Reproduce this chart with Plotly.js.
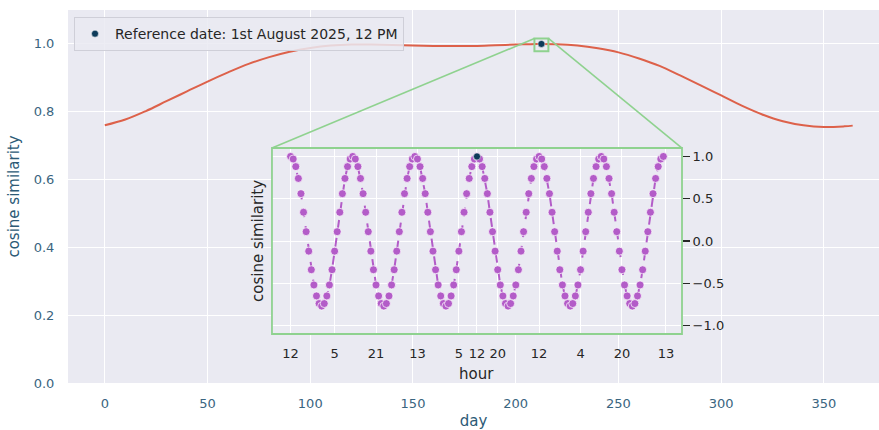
<!DOCTYPE html>
<html>
<head>
<meta charset="utf-8">
<script src="https://cdn.plot.ly/plotly-3.0.1.min.js"></script>
<style>html,body{margin:0;padding:0;background:#fff;}#chart{width:879px;height:430px;}</style>
</head>
<body>
<div id="chart"></div>
<script>
// ---- main chart: similarity vs day of year ----
const days = [0,10,20,30,40,50,60,70,80,90,100,110,120,130,140,150,160,170,180,190,200,210,220,230,240,250,260,270,280,290,300,310,320,330,340,350,360,364];
const simDay = [0.760,0.777,0.802,0.831,0.860,0.889,0.916,0.941,0.961,0.977,0.988,0.995,0.998,0.998,0.997,0.995,0.994,0.994,0.994,0.996,0.998,1.000,0.999,0.995,0.987,0.975,0.957,0.935,0.907,0.878,0.848,0.818,0.792,0.772,0.760,0.755,0.757,0.759];
const dayTicks = [0,50,100,150,200,250,300,350];

// ---- inset: similarity vs hour (offset from reference, in hours) ----
const hourOffset = [-72,-71,-70,-69,-68,-67,-66,-65,-64,-63,-62,-61,-60,-59,-58,-57,-56,-55,-54,-53,-52,-51,-50,-49,
-48,-47,-46,-45,-44,-43,-42,-41,-40,-39,-38,-37,-36,-35,-34,-33,-32,-31,-30,-29,-28,-27,-26,-25,
-24,-23,-22,-21,-20,-19,-18,-17,-16,-15,-14,-13,-12,-11,-10,-9,-8,-7,-6,-5,-4,-3,-2,-1,
0,1,2,3,4,5,6,7,8,9,10,11,12,13,14,15,16,17,18,19,20,21,22,23,
24,25,26,27,28,29,30,31,32,33,34,35,36,37,38,39,40,41,42,43,44,45,46,47,
48,49,50,51,52,53,54,55,56,57,58,59,60,61,62,63,64,65,66,67,68,69,70,71,72];
const simHour = [
1.00,0.97,0.88,0.74,0.56,0.34,0.11,-0.12,-0.34,-0.52,-0.65,-0.74,-0.77,-0.74,-0.65,-0.52,-0.34,-0.12,0.11,0.34,0.56,0.74,0.88,0.97,
1.00,0.97,0.88,0.74,0.56,0.34,0.11,-0.12,-0.34,-0.52,-0.65,-0.74,-0.77,-0.74,-0.65,-0.52,-0.34,-0.12,0.11,0.34,0.56,0.74,0.88,0.97,
1.00,0.97,0.88,0.74,0.56,0.34,0.11,-0.12,-0.34,-0.52,-0.65,-0.74,-0.77,-0.74,-0.65,-0.52,-0.34,-0.12,0.11,0.34,0.56,0.74,0.88,0.97,
1.00,0.97,0.88,0.74,0.56,0.34,0.11,-0.12,-0.34,-0.52,-0.65,-0.74,-0.77,-0.74,-0.65,-0.52,-0.34,-0.12,0.11,0.34,0.56,0.74,0.88,0.97,
1.00,0.97,0.88,0.74,0.56,0.34,0.11,-0.12,-0.34,-0.52,-0.65,-0.74,-0.77,-0.74,-0.65,-0.52,-0.34,-0.12,0.11,0.34,0.56,0.74,0.88,0.97,
1.00,0.97,0.88,0.74,0.56,0.34,0.11,-0.12,-0.34,-0.52,-0.65,-0.74,-0.77,-0.74,-0.65,-0.52,-0.34,-0.12,0.11,0.34,0.56,0.74,0.88,0.97,
1.00];
const hourTickVals = [-72,-55,-39,-23,-7,0,8,24,40,56,73];
const hourTickText = ['12','5','21','13','5','12','20','12','4','20','13'];
const simTicks = [-1,-0.5,0,0.5,1];
const simTickText = ['\u22121.0','\u22120.5','0.0','0.5','1.0'];

// reference point
const refDay = [212.5];
const refSim = [1.0];
const refHour = [0];
const refLabel = 'Reference date: 1st August 2025, 12 PM';

// ---- styling ----
const BG = '#eaeaf2';
const AXC = '#3a6580';
const DARK = '#262626';
const GREEN = '#8fd28f';
const FONT = 'DejaVu Sans, sans-serif';

const xr = [-17.9, 376.8];
const yr = [0, 1.1];
const ixr = [-79.2, 79.2];
const iyr = [-1.1, 1.1];
const insetX = [0.2515, 0.7571];
const insetY = [0.1314, 0.6300];
const zoomHalfWidth = 3.4; // days
const zoomY = [0.978, 1.016];

const traces = [
  {x: days, y: simDay, type: 'scatter', mode: 'lines', line: {color: '#dd614a', width: 2, shape: 'spline', smoothing: 1},
   showlegend: false, hoverinfo: 'skip', xaxis: 'x', yaxis: 'y'},
  {x: refDay, y: refSim, type: 'scatter', mode: 'markers', name: refLabel,
   marker: {color: '#0d3b5a', size: 7, line: {color: '#ffffff', width: 0.5}}, xaxis: 'x', yaxis: 'y'},
  {x: hourOffset, y: simHour, type: 'scatter', mode: 'lines+markers',
   line: {color: '#b35cc8', width: 2, dash: 'dash'},
   marker: {color: '#b35cc8', size: 8, line: {color: '#ffffff', width: 0.7}},
   showlegend: false, xaxis: 'x2', yaxis: 'y2'},
  {x: refHour, y: refSim, type: 'scatter', mode: 'markers',
   marker: {color: '#0d3b5a', size: 7, line: {color: '#ffffff', width: 0.5}},
   showlegend: false, xaxis: 'x2', yaxis: 'y2'}
];

function px(x){ return (x - xr[0]) / (xr[1] - xr[0]); }
function py(y){ return (y - yr[0]) / (yr[1] - yr[0]); }
const bx0 = px(refDay[0] - zoomHalfWidth), bx1 = px(refDay[0] + zoomHalfWidth), by1 = py(zoomY[1]);

const shapes = [
  {type: 'rect', xref: 'x', yref: 'y', x0: refDay[0] - zoomHalfWidth, x1: refDay[0] + zoomHalfWidth,
   y0: zoomY[0], y1: zoomY[1], line: {color: GREEN, width: 2}, layer: 'above'},
  {type: 'line', xref: 'paper', yref: 'paper', x0: bx0, y0: by1, x1: insetX[0], y1: insetY[1],
   line: {color: GREEN, width: 1.6}, layer: 'above'},
  {type: 'line', xref: 'paper', yref: 'paper', x0: bx1, y0: by1, x1: insetX[1], y1: insetY[1],
   line: {color: GREEN, width: 1.6}, layer: 'above'},
  {type: 'rect', xref: 'paper', yref: 'paper', x0: insetX[0], x1: insetX[1], y0: insetY[0], y1: insetY[1],
   line: {color: GREEN, width: 1.8}, layer: 'above'}
];

const layout = {
  width: 879, height: 430,
  margin: {l: 68, r: 0, t: 10, b: 47},
  paper_bgcolor: '#ffffff', plot_bgcolor: BG,
  font: {family: FONT, size: 13, color: AXC},
  showlegend: true,
  legend: {x: 0.0074, y: 0.981, xanchor: 'left', yanchor: 'top', bgcolor: 'rgba(234,234,242,0.85)',
           bordercolor: '#cfcfd8', borderwidth: 1, font: {family: FONT, size: 14, color: DARK}},
  xaxis: {domain: [0, 1], range: xr, tickvals: dayTicks, showgrid: true, gridcolor: '#ffffff', gridwidth: 1,
          zeroline: false, showline: false, ticks: 'outside', ticklen: 8, tickcolor: 'rgba(0,0,0,0)',
          tickfont: {family: FONT, size: 13, color: AXC},
          title: {text: 'day', font: {family: FONT, size: 15, color: '#2c5a76'}, standoff: 8}},
  yaxis: {domain: [0, 1], range: yr, tickvals: [0, 0.2, 0.4, 0.6, 0.8, 1.0], ticktext: ['0.0','0.2','0.4','0.6','0.8','1.0'],
          showgrid: true, gridcolor: '#ffffff', gridwidth: 1, zeroline: false, showline: false,
          ticks: 'outside', ticklen: 10, tickcolor: 'rgba(0,0,0,0)',
          tickfont: {family: FONT, size: 13, color: AXC},
          title: {text: 'cosine similarity', font: {family: FONT, size: 15, color: '#2c5a76'}, standoff: 10}},
  xaxis2: {domain: insetX, range: ixr, anchor: 'y2', tickvals: hourTickVals, ticktext: hourTickText,
           showgrid: true, gridcolor: '#ffffff', gridwidth: 1, zeroline: false, showline: false,
           ticks: 'outside', ticklen: 7, tickcolor: 'rgba(0,0,0,0)',
           tickfont: {family: FONT, size: 13, color: DARK}},
  yaxis2: {domain: insetY, range: iyr, anchor: 'x2', side: 'right', tickvals: simTicks, ticktext: simTickText,
           showgrid: true, gridcolor: '#ffffff', gridwidth: 1, zeroline: false, showline: false,
           ticks: 'outside', ticklen: 7, tickwidth: 1.2, tickcolor: DARK,
           tickfont: {family: FONT, size: 13, color: DARK}},
  shapes: shapes,
  annotations: [
    {text: 'cosine similarity', xref: 'paper', yref: 'paper', x: 0.2343, y: (insetY[0] + insetY[1]) / 2,
     textangle: -90, showarrow: false, xanchor: 'center', yanchor: 'middle', font: {family: FONT, size: 15, color: DARK}},
    {text: 'hour', xref: 'paper', yref: 'paper', x: (insetX[0] + insetX[1]) / 2, y: 0.024,
     showarrow: false, xanchor: 'center', yanchor: 'middle', font: {family: FONT, size: 15, color: DARK}}
  ]
};

Plotly.newPlot('chart', traces, layout, {displayModeBar: false, staticPlot: true});
</script>
</body>
</html>
